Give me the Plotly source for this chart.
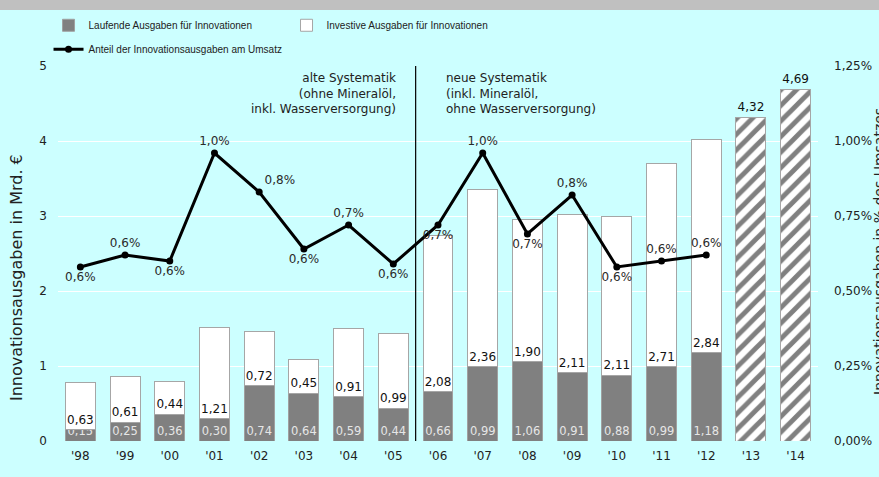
import plotly.graph_objects as go

# ---- data ----
years = ["'98", "'99", "'00", "'01", "'02", "'03", "'04", "'05", "'06",
         "'07", "'08", "'09", "'10", "'11", "'12", "'13", "'14"]
laufende = [0.15, 0.25, 0.36, 0.30, 0.74, 0.64, 0.59, 0.44, 0.66,
            0.99, 1.06, 0.91, 0.88, 0.99, 1.18, None, None]
investive = [0.63, 0.61, 0.44, 1.21, 0.72, 0.45, 0.91, 0.99, 2.08,
             2.36, 1.90, 2.11, 2.11, 2.71, 2.84, None, None]
planung = [None] * 15 + [4.32, 4.69]
anteil = [0.58, 0.62, 0.60, 0.96, 0.83, 0.64, 0.72, 0.59, 0.72,
          0.96, 0.69, 0.82, 0.58, 0.60, 0.62, None, None]
anteil_pos = ["bottom center", "top center", "bottom center", "top center",
              "top right", "bottom center", "top center", "bottom center",
              "bottom center", "top center", "bottom center", "top center",
              "bottom center", "top center", "top center", "top center",
              "top center"]
left_ticks = [0, 1, 2, 3, 4, 5]
right_ticks = [0, 0.25, 0.5, 0.75, 1.0, 1.25]
right_ticktext = [f"{v:.2f}%".replace(".", ",") for v in right_ticks]

FONT = "DejaVu Sans"
LEG_FONT = "Liberation Sans, Arial, sans-serif"
BG = "#CCFFFF"

fig = go.Figure()

fig.add_trace(go.Bar(
    x=years, y=laufende, name="Laufende Ausgaben für Innovationen",
    marker=dict(color="#808080", line=dict(color="#A0A0A0", width=1)),
    texttemplate="%{y:.2f}", textposition="inside", insidetextanchor="start",
    constraintext="none", textangle=0,
    insidetextfont=dict(family=FONT, size=11.5, color="#E6E6E6"),
    legend="legend", hoverinfo="skip",
))
fig.add_trace(go.Bar(
    x=years, y=investive, name="Investive Ausgaben für Innovationen",
    marker=dict(color="#FFFFFF", line=dict(color="#A6A6A6", width=1)),
    texttemplate="%{y:.2f}", textposition="inside", insidetextanchor="start",
    constraintext="none", textangle=0,
    insidetextfont=dict(family=FONT, size=12, color="#111111"),
    legend="legend", hoverinfo="skip",
))
fig.add_trace(go.Bar(
    x=years, y=planung, name="Planung", showlegend=False,
    marker=dict(color="#FFFFFF", line=dict(color="#A6A6A6", width=1),
                pattern=dict(shape="/", fgcolor="#808080", bgcolor="#FFFFFF",
                             size=11, solidity=0.45, fillmode="replace")),
    texttemplate="%{y:.2f}", textposition="outside", cliponaxis=False,
    textangle=0,
    outsidetextfont=dict(family=FONT, size=12, color="#111111"),
    hoverinfo="skip",
))
fig.add_trace(go.Scatter(
    x=years, y=anteil, yaxis="y2", name="Anteil der Innovationsausgaben am Umsatz",
    mode="lines+markers+text", line=dict(color="#000000", width=3),
    marker=dict(color="#000000", size=7),
    texttemplate="%{y:.1f}%", textposition=anteil_pos,
    textfont=dict(family=FONT, size=12, color="#2A2A2A"),
    legend="legend2", hoverinfo="skip", cliponaxis=False,
))

fig.update_layout(
    width=879, height=477,
    margin=dict(l=58, r=61, t=66, b=36, autoexpand=False),
    paper_bgcolor=BG, plot_bgcolor=BG,
    separators=",.",
    barmode="stack", bargap=0.33,
    font=dict(family=FONT, size=12, color="#222222"),
    xaxis=dict(type="category", range=[-0.5, len(years) - 0.5],
               showgrid=False, zeroline=False, showline=False,
               ticks="", ticklabelstandoff=6, automargin=False,
               tickfont=dict(family=FONT, size=12, color="#222222")),
    yaxis=dict(range=[0, 5], tickvals=left_ticks, showgrid=True,
               gridcolor="#FFFFFF", gridwidth=1, zeroline=False, showline=False,
               ticks="", ticklabelstandoff=10, automargin=False,
               tickfont=dict(family=FONT, size=12, color="#222222")),
    yaxis2=dict(range=[0, 1.25], tickvals=right_ticks, ticktext=right_ticktext,
                overlaying="y", side="right", showgrid=False, automargin=False,
                zeroline=False, showline=False, ticks="", ticklabelstandoff=15,
                tickfont=dict(family=FONT, size=12, color="#222222")),
    legend=dict(orientation="h", xref="container", yref="container",
                x=0.0552, y=0.947, xanchor="left", yanchor="middle",
                entrywidth=193, bgcolor="rgba(0,0,0,0)",
                font=dict(family=LEG_FONT, size=10, color="#222222"),
                traceorder="normal"),
    legend2=dict(orientation="h", xref="container", yref="container",
                 x=0.0552, y=0.897, xanchor="left", yanchor="middle",
                 bgcolor="rgba(0,0,0,0)",
                 font=dict(family=LEG_FONT, size=10, color="#222222")),
    shapes=[
        dict(type="rect", xref="paper", yref="paper", x0=-0.08, x1=1.09,
             y0=1 + (66 - 10) / 375, y1=1.2, fillcolor="#C0C0C0",
             line=dict(width=0), layer="below"),
        dict(type="line", xref="x", yref="paper", x0=7.5, x1=7.5, y0=0, y1=1,
             line=dict(color="#000000", width=1.2)),
    ],
    annotations=[
        dict(text="alte Systematik<br>(ohne Mineralöl,<br>inkl. Wasserversorgung)",
             xref="paper", yref="paper", x=(398 - 58) / 760, y=0.992,
             xanchor="right", yanchor="top", align="right", showarrow=False,
             font=dict(family=FONT, size=12, color="#222222")),
        dict(text="neue Systematik<br>(inkl. Mineralöl,<br>ohne Wasserversorgung)",
             xref="paper", yref="paper", x=(444 - 58) / 760, y=0.992,
             xanchor="left", yanchor="top", align="left", showarrow=False,
             font=dict(family=FONT, size=12, color="#222222")),
        dict(text="Innovationsausgaben in Mrd. €", textangle=-90,
             xref="paper", yref="paper", x=(16 - 58) / 760, y=(441 - 278) / 375,
             xanchor="center", yanchor="middle", showarrow=False,
             font=dict(family=FONT, size=16, color="#222222")),
        dict(text="Innovationsausgaben in % des Umsatzes", textangle=-90,
             xref="paper", yref="paper", x=(879 - 58) / 760, y=(441 - 252) / 375,
             xanchor="center", yanchor="middle", showarrow=False,
             font=dict(family=FONT, size=14, color="#222222")),
    ],
)

fig.write_html("out.html",
               config={"displayModeBar": False},
               post_script="document.body.style.margin='0px';"
                           "document.body.style.overflow='hidden';")
